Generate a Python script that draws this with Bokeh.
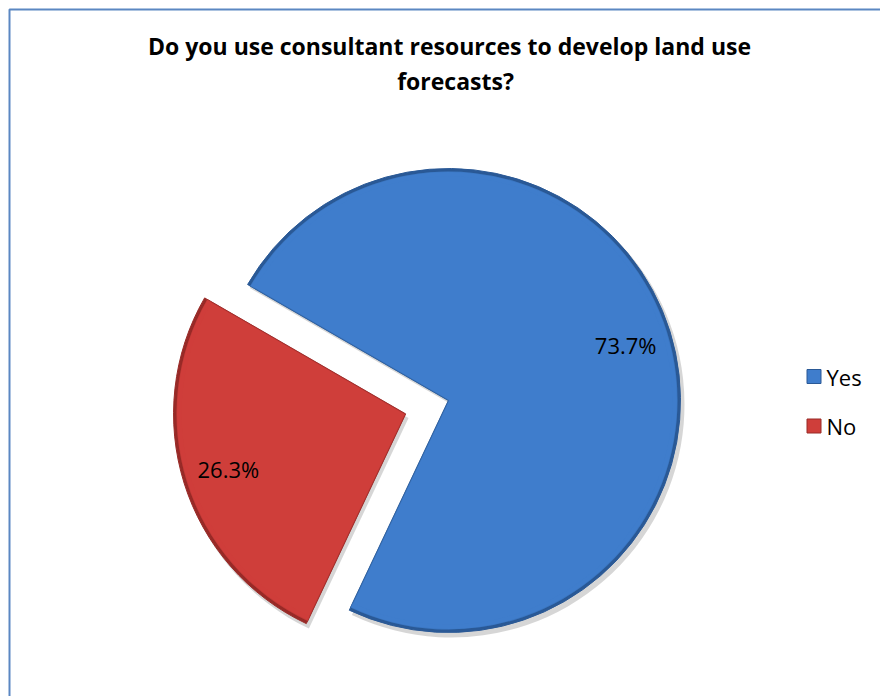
import math
from bokeh.plotting import figure
from bokeh.models import Range1d
from bokeh.core.properties import value
from bokeh.embed import file_html
from bokeh.resources import INLINE

# ---- data ----
categories = ["Yes", "No"]
shares = [73.7, 26.3]
labels = ["73.7%", "26.3%"]
fills = ["#3f7dcc", "#cf3e3a"]
rims = ["#2a5996", "#982a27"]
explode = [0.0, 45.0]
title_lines = ["Do you use consultant resources to develop land use", "forecasts?"]

W, H = 880, 696
FONT = "Open Sans"

p = figure(width=W, height=H, output_backend="svg", toolbar_location=None,
           x_range=Range1d(0, W), y_range=Range1d(0, H),
           min_border=0, min_border_left=0, min_border_right=0,
           min_border_top=0, min_border_bottom=0)
p.axis.visible = False
p.grid.visible = False
p.outline_line_color = None
p.background_fill_color = "white"
p.border_fill_color = "white"

# chart border (top and left visible)
p.line(x=[9, 9, W + 20], y=[-20, H - 9, H - 9], line_color="#5b87c2", line_width=2)

# title
p.text(x=[449, 455], y=[H - 45, H - 80], text=title_lines, text_font=value(FONT),
       text_font_style="bold", text_font_size="23px", text_align="center",
       text_baseline="middle", text_color="#000000")

# pie geometry
cx, cy = 448.0, H - 400.0
R = 232.0
start = math.radians(150.0)  # first slice edge, slices run clockwise
total = sum(shares)
ang = start
wedges = []
for i, s in enumerate(shares):
    sweep = 2 * math.pi * s / total
    a_end = ang
    a_start = ang - sweep
    mid = (a_start + a_end) / 2
    ox = cx + explode[i] * math.cos(mid)
    oy = cy + explode[i] * math.sin(mid)
    wedges.append((a_start, a_end, mid, ox, oy))
    ang = a_start

# shadows
for i, (a0, a1, mid, ox, oy) in enumerate(wedges):
    p.wedge(x=[ox + 3], y=[oy - 4], radius=R + 1, start_angle=a0, end_angle=a1,
            fill_color="#000000", fill_alpha=0.16, line_color=None)
# rims and fills
for i, (a0, a1, mid, ox, oy) in enumerate(wedges):
    p.wedge(x=[ox], y=[oy], radius=R, start_angle=a0, end_angle=a1,
            fill_color=rims[i], line_color=rims[i], line_width=1)
    p.wedge(x=[ox], y=[oy], radius=R - 3, start_angle=a0, end_angle=a1,
            fill_color=fills[i], line_color=rims[i], line_width=1.2, line_alpha=0.5)
    p.annular_wedge(x=[ox], y=[oy], inner_radius=R - 8, outer_radius=R - 3,
                    start_angle=a0, end_angle=a1, fill_color=fills[i],
                    fill_alpha=0.6, line_color=None)
    lx = ox + 0.80 * R * math.cos(mid)
    ly = oy + 0.80 * R * math.sin(mid)
    p.text(x=[lx], y=[ly], text=[labels[i]], text_font=value(FONT),
           text_font_size="22px", text_align="center", text_baseline="middle",
           text_color="#000000")

# legend
leg_y = [H - 376, H - 425.5]
for i, c in enumerate(categories):
    p.rect(x=[813.5], y=[leg_y[i]], width=14, height=14, fill_color=fills[i],
           line_color=rims[i], line_width=1)
    p.text(x=[826], y=[leg_y[i]], text=[c], text_font=value(FONT),
           text_font_size="22px", text_align="left", text_baseline="middle",
           text_color="#000000")

open("out.html", "w").write(file_html(p, INLINE))
